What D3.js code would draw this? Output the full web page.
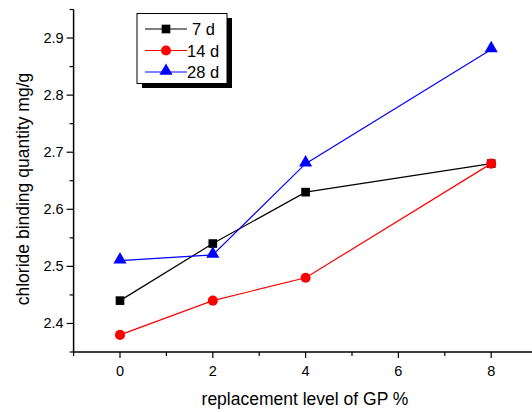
<!DOCTYPE html>
<html>
<head>
<meta charset="utf-8">
<script src="https://cdn.jsdelivr.net/npm/d3@7"></script>
<style>
  body { margin: 0; background: #fff; }
  text { font-family: Arial, "Liberation Sans", sans-serif; }
</style>
</head>
<body>
<div id="Chart"></div>
<script>
var levels = [0, 2, 4, 8];
var d7 = [2.44, 2.54, 2.63, 2.68];
var d14 = [2.38, 2.44, 2.48, 2.68];
var d28 = [2.51, 2.52, 2.68, 2.88];
var seriesNames = ["7 d", "14 d", "28 d"];
var xTicks = [0, 2, 4, 6, 8];
var yTicks = [2.4, 2.5, 2.6, 2.7, 2.8, 2.9];

var width = 532, height = 412;
var svg = d3.select("#Chart").append("svg")
    .attr("width", width).attr("height", height);

var x = d3.scaleLinear().domain([-1, 9]).range([73.6, 537.6]);
var y = d3.scaleLinear().domain([2.35, 2.95]).range([352, 9.5]);

// axes
var xAxis = svg.append("g").attr("transform", "translate(0,352)");
xAxis.append("line").attr("x1", x(-1)).attr("x2", width).attr("stroke", "#000").attr("stroke-width", 1.5);
xAxis.selectAll(".minor").data(d3.range(-1, 9, 1))
    .enter().append("line")
    .attr("x1", d => x(d)).attr("x2", d => x(d))
    .attr("y1", 0).attr("y2", d => d % 2 === 0 ? 6 : 4)
    .attr("stroke", "#000").attr("stroke-width", 1.2);
xAxis.selectAll(".lbl").data(xTicks)
    .enter().append("text")
    .attr("x", d => x(d)).attr("y", 24)
    .attr("text-anchor", "middle").attr("font-size", 14.5)
    .text(d => d);

var yAxis = svg.append("g").attr("transform", "translate(" + x(-1) + ",0)");
yAxis.append("line").attr("y1", y(2.35)).attr("y2", y(2.95)).attr("stroke", "#000").attr("stroke-width", 1.5);
yAxis.selectAll(".minor").data(d3.range(2.35, 2.96, 0.05))
    .enter().append("line")
    .attr("y1", d => y(d)).attr("y2", d => y(d))
    .attr("x1", 0).attr("x2", d => Math.round(d * 20) % 2 === 0 ? -7 : -4)
    .attr("stroke", "#000").attr("stroke-width", 1.2);
yAxis.selectAll(".lbl").data(yTicks)
    .enter().append("text")
    .attr("x", -10).attr("y", d => y(d) + 5)
    .attr("text-anchor", "end").attr("font-size", 14.5)
    .text(d => d.toFixed(1));

svg.append("text")
    .attr("x", 305).attr("y", 405)
    .attr("text-anchor", "middle").attr("font-size", 17.5)
    .text("replacement level of GP %");
svg.append("text")
    .attr("transform", "translate(29,189) rotate(-90)")
    .attr("text-anchor", "middle").attr("font-size", 17.5)
    .text("chloride binding quantity mg/g");

// series
var series = [
  {name: seriesNames[0], vals: d7, color: "#000", shape: d3.symbolSquare, size: 75},
  {name: seriesNames[1], vals: d14, color: "#ff0000", shape: d3.symbolCircle, size: 80},
  {name: seriesNames[2], vals: d28, color: "#0000ff", shape: d3.symbolTriangle, size: 75}
];

var line = d3.line().x((d, i) => x(levels[i])).y(d => y(d));

series.forEach(function(s) {
  svg.append("path").attr("d", line(s.vals))
      .attr("fill", "none").attr("stroke", s.color).attr("stroke-width", 1.2);
  svg.selectAll(null).data(s.vals).enter().append("path")
      .attr("d", d3.symbol().type(s.shape).size(s.size))
      .attr("transform", (d, i) => "translate(" + x(levels[i]) + "," + (y(d) + (s.shape === d3.symbolTriangle ? -1 : 0)) + ")")
      .attr("fill", s.color);
});

// legend
var lg = svg.append("g");
lg.append("rect").attr("x", 142).attr("y", 18).attr("width", 90).attr("height", 70).attr("fill", "#000");
lg.append("rect").attr("x", 137).attr("y", 13.5).attr("width", 90).attr("height", 70)
    .attr("fill", "#fff").attr("stroke", "#000").attr("stroke-width", 1);
series.forEach(function(s, i) {
  var cy = 29 + i * 21.5;
  lg.append("line").attr("x1", 145).attr("x2", 187).attr("y1", cy).attr("y2", cy)
      .attr("stroke", s.color).attr("stroke-width", 1.2);
  lg.append("path").attr("d", d3.symbol().type(s.shape).size(s.size))
      .attr("transform", "translate(166," + (cy + (s.shape === d3.symbolTriangle ? -1 : 0)) + ")")
      .attr("fill", s.color);
  lg.append("text").attr("x", i === 0 ? 192 : 187).attr("y", cy + 6)
      .attr("font-size", 16.5).text(s.name);
});
</script>
</body>
</html>
